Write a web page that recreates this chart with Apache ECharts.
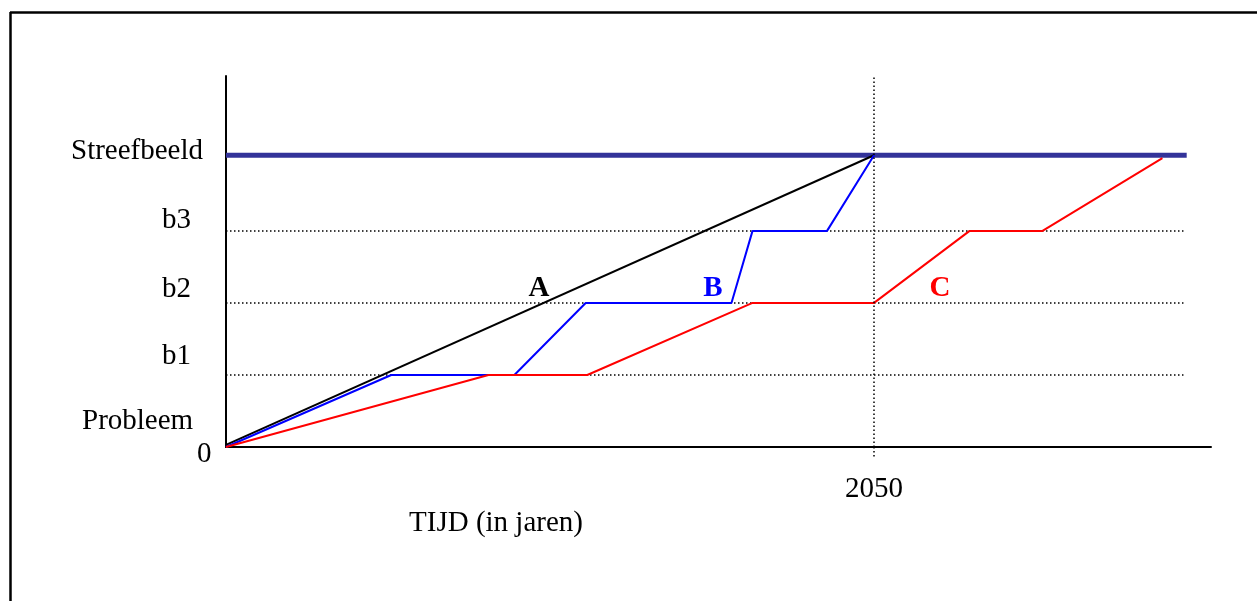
<!DOCTYPE html>
<html>
<head>
<meta charset="utf-8">
<script src="https://cdn.jsdelivr.net/npm/echarts@6/dist/echarts.min.js"></script>
<style>
  html, body { margin: 0; padding: 0; background: #fff; }
  #chart { width: 1257px; height: 601px; }
</style>
</head>
<body>
<div id="chart"></div>
<script>
// tijd in jaren, niveau 0 = probleem, 1..3 = b1..b3, ~4 = streefbeeld
var startYear = 2010;
var targetYear = 2050;
var endYear = 2070.8;
var streefLevel = 4.05;

var levelNames = ['b1', 'b2', 'b3'];
var levelValues = [1, 2, 3];

var pathA = [[2010, 0.03], [2050, 4.05]];
var pathB = [[2010, 0], [2020.2, 1], [2027.8, 1], [2032.2, 2], [2041.2, 2], [2042.5, 3], [2047.1, 3], [2050, 4.05]];
var pathC = [[2010, 0], [2026.2, 1], [2032.3, 1], [2042.5, 2], [2050, 2], [2055.9, 3], [2060.4, 3], [2067.8, 4.01]];

var streefEnd = 2069.3;
var dottedEnd = 2069.1;

var serif = "'Liberation Serif', 'Times New Roman', serif";

var chart = echarts.init(document.getElementById('chart'));

var series = [];
// stippellijnen b1..b3
levelValues.forEach(function (v, i) {
    series.push({
        name: levelNames[i],
        type: 'line',
        symbol: 'none',
        silent: true,
        lineStyle: { color: '#000', width: 1.5, type: [1.5, 2.5] },
        data: [[startYear, v], [dottedEnd, v]]
    });
});
series.push({
    name: 'Streefbeeld',
    type: 'line',
    symbol: 'none',
    lineStyle: { color: '#333399', width: 5 },
    data: [[startYear, streefLevel], [streefEnd, streefLevel]]
});
series.push({
    name: 'A', type: 'line', symbol: 'none',
    lineStyle: { color: '#000', width: 2 },
    data: pathA
});
series.push({
    name: 'B', type: 'line', symbol: 'none',
    lineStyle: { color: '#0000ff', width: 2 },
    data: pathB
});
series.push({
    name: 'C', type: 'line', symbol: 'none',
    lineStyle: { color: '#ff0000', width: 2 },
    data: pathC
});

var option = {
    animation: false,
    backgroundColor: '#fff',
    grid: { left: 226, right: 46, top: 76, bottom: 154, containLabel: false },
    xAxis: {
        type: 'value',
        min: startYear,
        max: endYear,
        splitLine: { show: false },
        axisLine: { lineStyle: { color: '#000', width: 2 } },
        axisTick: {
            show: true,
            customValues: [targetYear],
            length: 12,
            lineStyle: { color: '#000', width: 1.5, type: [1.5, 2.5] }
        },
        axisLabel: {
            customValues: [targetYear],
            formatter: function (v) { return String(v); },
            margin: 28,
            color: '#000',
            fontSize: 29,
            fontFamily: serif
        }
    },
    yAxis: {
        type: 'value',
        min: 0,
        max: 5.15,
        splitLine: { show: false },
        axisTick: { show: false },
        axisLabel: { show: false },
        axisLine: { lineStyle: { color: '#000', width: 2 } }
    },
    series: series
};

// verticale stippellijn bij 2050
series[series.length - 1].markLine = {
    silent: true,
    symbol: 'none',
    label: { show: false },
    lineStyle: { color: '#000', width: 1.5, type: [1.5, 2.5] },
    data: [{ xAxis: targetYear }]
};

chart.setOption(option);

var txt = function (s, x, y, color, bold, align) {
    return {
        type: 'text',
        x: x, y: y,
        style: {
            text: s,
            fill: color || '#000',
            font: (bold ? 'bold ' : '') + '29px ' + serif,
            textAlign: align || 'left',
            textVerticalAlign: 'middle'
        }
    };
};

chart.setOption({
    graphic: [
        // kader
        { type: 'line', shape: { x1: 10, y1: 12.5, x2: 1257, y2: 12.5 }, style: { stroke: '#000', lineWidth: 2.5 } },
        { type: 'line', shape: { x1: 10.5, y1: 12, x2: 10.5, y2: 601 }, style: { stroke: '#000', lineWidth: 2.5 } },
        // y-labels
        txt('Streefbeeld', 71, 151),
        txt(levelNames[2], 162, 220),
        txt(levelNames[1], 162, 289),
        txt(levelNames[0], 162, 356),
        txt('Probleem', 82, 421),
        txt('0', 197, 454),
        // curve labels
        txt('A', 539, 289, '#000', true, 'center'),
        txt('B', 713, 289, '#0000ff', true, 'center'),
        txt('C', 940, 289, '#ff0000', true, 'center'),
        // x-as naam
        txt('TIJD (in jaren)', 496, 523, '#000', false, 'center')
    ]
});
</script>
</body>
</html>
